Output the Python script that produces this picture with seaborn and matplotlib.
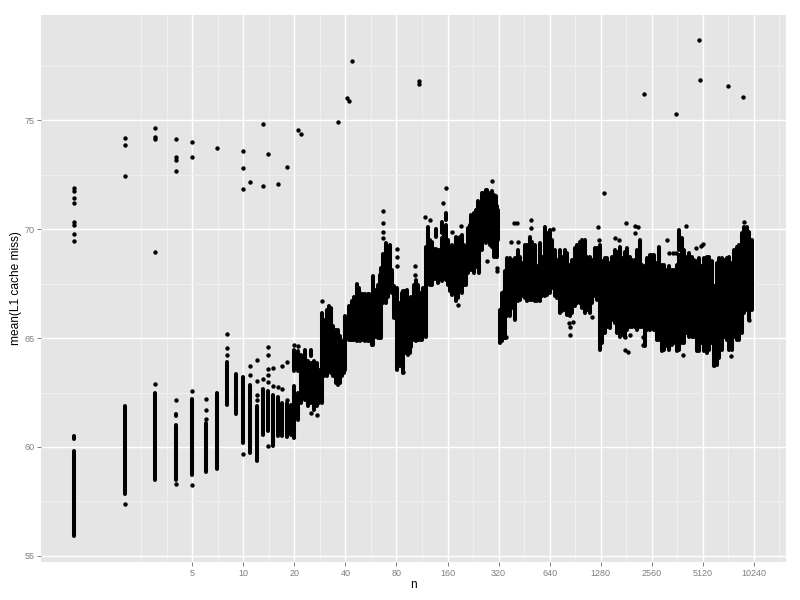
import numpy as np
import pandas as pd
import seaborn as sns
import matplotlib
matplotlib.use("Agg")
import matplotlib.pyplot as plt
from matplotlib.ticker import NullFormatter

# vertical runs where the points merge into solid columns
run_n = [1, 1, 2, 3, 4, 4, 5, 6, 7, 8, 9, 10, 11, 12, 13, 14, 15, 16, 17, 18, 19, 20, 20,
         21, 21, 22, 23, 24, 25, 25, 26, 27, 28, 29, 30, 31, 32, 33, 34, 35, 36, 37, 38, 39, 40,
         42, 43, 44, 45, 47, 48, 49, 51, 52, 54, 55, 57, 58, 60, 62, 64, 65, 67, 69, 71, 73, 75, 77, 79,
         81, 84, 86, 88, 90, 92, 94, 96, 98, 101, 104, 107, 110, 113, 115, 119,
         122, 126, 129, 133, 137, 137, 140, 144, 148, 148, 152, 156, 156, 160, 165, 170, 174, 179, 184,
         190, 194, 199, 205, 210, 216, 220, 228, 235, 241, 247, 254, 260, 269, 275, 284, 292, 300, 308, 312, 316,
         326, 349, 373, 400, 428, 458, 490, 524, 561, 600, 642, 687, 735, 787, 842, 901, 964, 1031, 1104, 1181,
         1264, 1352, 1447, 1548, 1657, 1773, 1897, 2030, 2172, 2324, 2487, 2661, 2847, 3047, 3260, 3488,
         3732, 3732, 3993, 4273, 4572, 4892, 5235, 5601, 5993, 6413, 6862, 7342, 7856, 8406, 8994, 9624, 10000]
run_low = [55.92, 60.35, 57.83, 58.5, 58.5, 61.4, 58.73, 58.87, 59.0, 61.93, 61.53, 60.2, 59.72, 59.37, 60.57, 60.72, 60.03, 60.5, 60.5, 60.46, 60.57, 60.4, 63.47,
           63.47, 61.25, 62.0, 62.17, 61.87, 62.02, 64.16, 61.7, 61.87, 62.02, 62.0, 63.24, 63.24, 63.55, 63.4, 63.24, 62.94, 62.86, 62.94, 63.24, 63.4, 63.55,
           64.92, 64.92, 64.92, 64.9, 64.85, 64.9, 64.85, 64.9, 64.85, 64.85, 64.85, 64.7, 64.7, 65.07, 65.0, 65.0, 65.0, 66.6, 66.6, 66.9, 67.2, 67.06, 65.92, 65.92,
           63.55, 63.7, 63.85, 63.4, 64.31, 64.46, 64.24, 64.31, 64.6, 64.92, 64.85, 64.92, 64.92, 64.92, 65.07, 65.07,
           67.5, 67.45, 67.45, 67.7, 67.7, 69.66, 67.55, 67.75, 67.6, 69.8, 67.8, 67.67, 70.43, 67.45, 67.14, 66.99, 67.06, 66.68, 66.83,
           67.52, 67.06, 67.45, 67.45, 67.98, 68.6, 68.13, 67.98, 68.28, 68.36, 67.98, 69.05, 69.43, 69.36, 69.6, 69.28, 69.2, 68.74, 68.74, 68.72, 69.5,
           64.77, 65.0, 66.0, 65.84, 66.76, 66.83, 66.76, 66.68, 66.68, 66.91, 67.06, 66.91, 66.15, 66.3, 65.99, 66.45, 66.6, 66.15, 66.15, 66.91,
           64.46, 65.23, 65.46, 65.69, 65.07, 65.07, 65.53, 65.53, 65.53, 64.62, 65.38, 65.38, 64.92, 64.46, 64.46, 64.77,
           64.46, 69.05, 64.77, 65.07, 65.07, 64.39, 64.39, 64.46, 63.7, 64.08, 65.07, 64.46, 65.07, 64.92, 66.15, 65.84, 66.3]
run_high = [59.82, 60.5, 61.88, 62.5, 61.0, 61.5, 62.2, 61.1, 62.5, 63.88, 63.36, 63.2, 62.86, 61.87, 62.66, 62.55, 62.4, 62.3, 62.0, 62.0, 61.94, 62.78, 64.46,
            64.39, 62.48, 64.2, 64.46, 63.93, 63.85, 64.46, 63.93, 63.85, 63.55, 66.15, 65.84, 66.3, 66.45, 66.38, 65.54, 65.38, 65.38, 65.08, 64.77, 64.92, 65.99,
            66.45, 66.45, 66.68, 66.9, 67.5, 67.3, 67.06, 67.0, 67.0, 67.0, 67.0, 67.0, 67.83, 67.2, 67.45, 67.9, 68.2, 68.85, 69.36, 68.9, 69.28, 68.13, 67.37, 67.2,
            67.29, 66.6, 67.06, 67.14, 67.14, 67.2, 66.6, 66.15, 66.9, 67.45, 67.68, 67.45, 67.06, 65.99, 67.29, 69.2,
            70.1, 69.5, 69.43, 69.1, 69.1, 70.0, 69.05, 69.05, 69.6, 70.35, 70.1, 70.2, 70.73, 69.5, 69.2, 69.28, 69.05, 69.66, 69.36,
            69.66, 69.74, 69.28, 69.05, 70.05, 70.2, 70.66, 70.73, 70.9, 71.27, 71.19, 71.65, 71.65, 71.8, 71.8, 71.65, 71.73, 71.57, 71.5, 71.04, 70.9,
            66.3, 68.06, 68.67, 68.67, 68.74, 69.28, 69.66, 69.28, 69.36, 70.12, 69.97, 69.05, 69.05, 69.05, 68.36, 69.13, 69.43, 69.51, 68.74, 69.13,
            69.28, 68.67, 68.44, 69.05, 69.2, 68.97, 68.74, 68.59, 69.51, 68.29, 68.82, 68.82, 69.2, 68.36, 68.29, 68.13,
            68.82, 69.97, 69.05, 68.9, 68.59, 68.67, 68.67, 68.74, 67.37, 68.67, 68.59, 68.74, 69.05, 69.28, 70.12, 69.89, 69.51]

# runs read between the ones above, for n past 320
fill_n = [337, 361, 386, 414, 443, 474, 507, 542, 580, 621, 664, 711, 761, 814, 871, 932, 997, 1067, 1142, 1222,
          1307, 1399, 1497, 1602, 1714, 1834, 1963, 2100, 2247, 2405, 2573, 2753, 2946, 3152, 3373, 3609,
          3862, 4132, 4421, 4731, 5062, 5416, 5795, 6201, 6635, 7099, 7596, 8128, 8697, 9305]
fill_low = [64.85, 65.99, 66.37, 66.68, 66.91, 66.68, 66.76, 66.68, 66.91, 66.99, 67.29, 66.83, 66.22, 66.07, 66.15, 66.6, 66.37, 66.3, 66.6, 66.76,
            64.77, 65.53, 65.84, 65.23, 65.15, 65.38, 65.53, 65.38, 65.53, 65.38, 65.53, 64.92, 64.39, 64.62, 64.69, 64.39,
            64.77, 65.23, 65.07, 64.39, 64.77, 64.31, 64.77, 63.77, 64.46, 64.92, 64.46, 64.92, 65.23, 66.3]
fill_high = [67.06, 68.67, 68.59, 69.05, 68.44, 69.28, 69.43, 68.29, 68.74, 69.81, 69.51, 68.59, 68.74, 68.9, 68.59, 69.28, 69.51, 68.74, 68.59, 69.13,
             68.52, 68.67, 68.74, 68.97, 68.67, 69.13, 68.59, 69.05, 68.36, 68.67, 68.82, 68.44, 68.36, 68.13, 68.13, 68.36,
             69.59, 68.74, 68.74, 68.52, 68.29, 68.74, 68.52, 68.44, 68.67, 68.67, 68.44, 69.2, 69.82, 70.12]

# points that stand on their own
point_n = [1, 1, 1, 1, 1, 1, 1, 1, 2, 2, 2, 2, 3, 3, 3, 3, 3, 4, 4, 4, 4, 4, 4, 5, 5, 5, 5,
           6, 6, 6, 7, 8, 8, 8, 10, 10, 10, 10, 11, 11, 11, 12, 12, 12, 12, 13, 13, 13,
           14, 14, 14, 14, 14, 14, 14, 15, 15, 16, 16, 17, 17, 18, 18, 18, 20, 21, 21, 22, 25, 27, 29, 36,
           41, 42, 44, 67, 67, 67, 67, 81, 81, 81, 88, 103, 103, 109, 109, 118, 126, 151, 156, 170, 185, 192, 275, 292, 312, 312,
           344, 348, 354, 380, 396, 410, 418, 497, 497, 675, 828, 847, 847, 882, 1135, 1230, 1247, 1341,
           1548, 1640, 1785, 1785, 1810, 1860, 1910, 2030, 2030, 2140, 2270, 2270, 2307, 3140, 3260, 3400, 3560, 3570,
           3940, 4110, 4660, 4870, 4940, 5020, 5150, 5993, 7220, 7490, 8850, 8994, 9624]
point_y = [71.88, 71.76, 71.44, 71.21, 70.31, 70.17, 69.79, 69.46, 74.19, 73.85, 72.45, 57.4, 74.65, 74.25, 74.16, 68.94, 62.9, 74.14, 73.29, 73.18, 72.68, 62.17, 58.3, 74.0, 73.32, 62.55, 58.27,
           62.2, 61.7, 61.3, 73.73, 65.2, 64.56, 64.24, 73.59, 72.81, 71.85, 59.7, 72.17, 63.7, 63.3, 64.0, 63.04, 62.4, 62.14, 74.83, 71.99, 63.1,
           73.44, 64.6, 64.24, 63.6, 63.3, 63.0, 60.03, 63.64, 62.78, 72.06, 62.75, 63.73, 62.66, 72.87, 63.88, 62.17, 64.7, 74.56, 64.62, 74.36, 61.56, 61.45, 66.71, 74.92,
           76.0, 75.9, 77.72, 70.81, 70.28, 69.85, 69.59, 69.1, 68.72, 68.29, 63.44, 68.3, 67.9, 76.8, 76.65, 70.58, 70.43, 71.22, 71.88, 69.86, 66.53, 70.15, 68.52, 72.23, 68.2, 68.06,
           67.14, 65.07, 65.07, 69.43, 70.26, 70.27, 69.4, 70.43, 70.05, 70.0, 65.71, 65.49, 65.15, 65.75, 65.96, 70.12, 69.51, 71.65,
           69.59, 69.48, 64.46, 65.07, 70.3, 64.34, 65.12, 70.15, 69.8, 70.09, 65.07, 64.7, 76.2, 69.51, 68.9, 68.9, 68.9, 75.3,
           64.2, 70.15, 69.13, 78.7, 76.85, 69.23, 69.33, 63.77, 76.55, 64.16, 76.05, 70.35, 65.81]

x_ticks = [5, 10, 20, 40, 80, 160, 320, 640, 1280, 2560, 5120, 10240]
x_minor = [2.5, 3.54, 7.07, 14.14, 28.28, 56.57, 113.1, 226.3, 452.5, 905.1, 1810, 3620, 7241, 14482]
y_ticks = [55, 60, 65, 70, 75]
y_minor = [57.5, 62.5, 67.5, 72.5, 77.5]

sns.set_theme(style="darkgrid")
plt.rcParams['font.family'] = ['Liberation Sans', 'DejaVu Sans']

all_n = run_n + fill_n
all_low = run_low + fill_low
all_high = run_high + fill_high
runs = pd.DataFrame({
    "n": all_n + all_n,
    "miss": all_low + all_high,
    "run": list(range(len(all_n))) * 2,
})
points = pd.DataFrame({"n": point_n, "miss": point_y})

fig = plt.figure(figsize=(8, 6), dpi=100)
ax = fig.add_axes([41 / 800, 1 - 562 / 600, 745 / 800, 547 / 600])
ax.set_facecolor("#E5E5E5")
ax.set_xscale("log", base=2)

sns.lineplot(data=runs, x="n", y="miss", units="run", estimator=None, color="black",
             linewidth=2.9, solid_capstyle="round", legend=False, ax=ax)
sns.scatterplot(data=points, x="n", y="miss", color="black", s=10, linewidth=0, legend=False, ax=ax)

ax.set_xlim(0.64, 15880)
ax.set_ylim(54.72, 79.83)
ax.set_xticks(x_ticks, [str(t) for t in x_ticks])
ax.set_xticks(x_minor, minor=True)
ax.xaxis.set_minor_formatter(NullFormatter())
ax.set_yticks(y_ticks, [str(t) for t in y_ticks])
ax.set_yticks(y_minor, minor=True)

ax.grid(True, which="major", color="white", linewidth=1.0)
ax.grid(True, which="minor", color="#F0F0F0", linewidth=0.7)
ax.set_axisbelow(True)
for spine in ax.spines.values():
    spine.set_visible(False)
ax.tick_params(which="major", length=2.9, width=0.7, color="#7F7F7F", labelcolor="#7F7F7F",
               labelsize=6.5, pad=2, bottom=True, left=True)
ax.tick_params(which="minor", length=0)

ax.set_xlabel("n", fontsize=8.6, color="black")
ax.set_ylabel("mean(L1 cache miss)", fontsize=8.6, color="black")
ax.xaxis.set_label_coords(0.5, -0.031)
ax.yaxis.set_label_coords(-0.0255, 0.5)

plt.savefig("out.png", dpi=100)
plt.close()
